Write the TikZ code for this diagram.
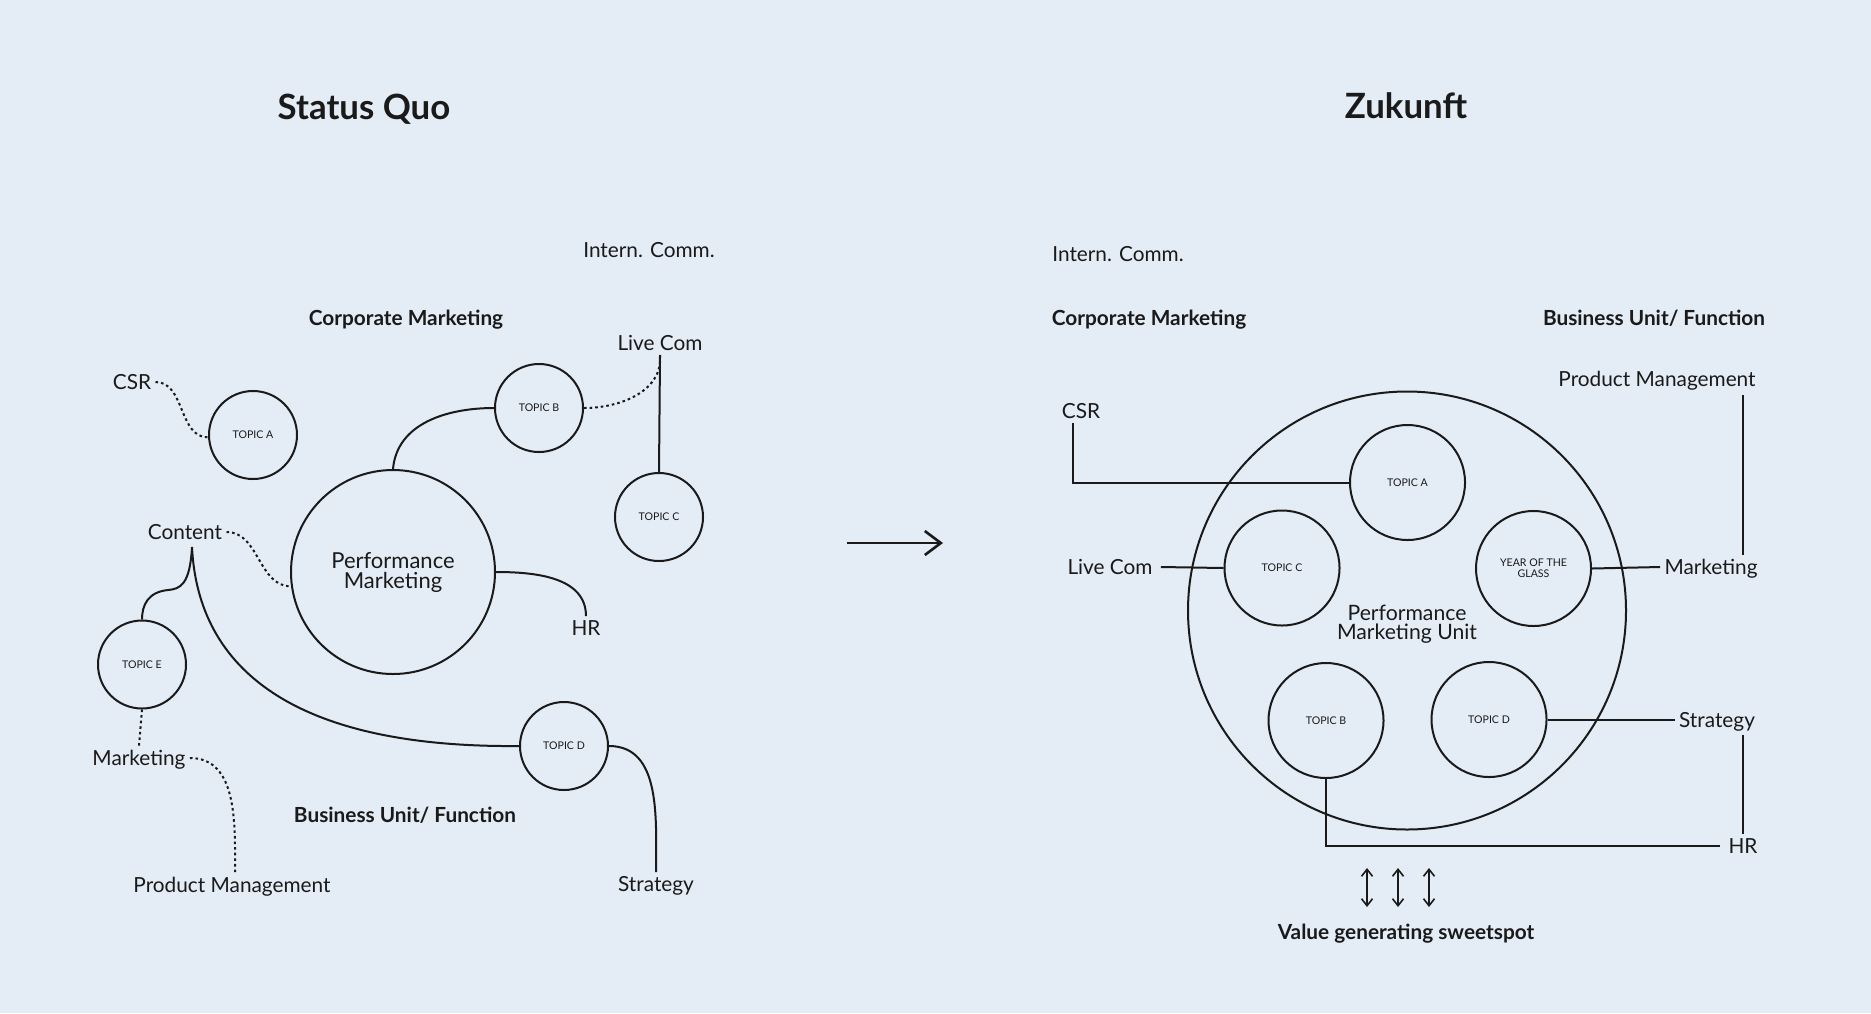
\documentclass[tikz,border=0pt]{standalone}
\usepackage{fontspec}
\setmainfont{Lato}
\usetikzlibrary{arrows.meta}
\definecolor{bg}{HTML}{E4ECF6}
\definecolor{ink}{HTML}{1A1A1A}
\tikzset{
  lbl/.style={font=\fontsize{10.4}{12}\selectfont, text=ink, inner sep=2pt, text depth=0pt},
  blbl/.style={font=\bfseries\fontsize{10.4}{12}\selectfont, text=ink, inner sep=2pt, text depth=0pt},
  ttl/.style={font=\bfseries\fontsize{17.4}{20}\selectfont, text=ink, text depth=0pt},
  topicS/.style={circle, draw=ink, line width=1pt, minimum size=44pt, inner sep=0pt, font=\fontsize{5.3}{5.4}\selectfont, text=ink, align=center},
  topicL/.style={topicS, minimum size=57.5pt},
  conn/.style={draw=ink, line width=1pt},
  dots/.style={conn, dash pattern=on 1.3pt off 1.5pt},
  barb/.tip={Straight Barb[length=3.5pt,width=5.5pt]}
}
\begin{document}
\begin{tikzpicture}[x=0.5pt,y=-0.5pt]
\fill[bg] (0,0) rectangle (1871,1013);
\useasboundingbox (0,0) rectangle (1871,1013);

% ---------------- Left: Status Quo ----------------
\node[ttl] (t1) at (364,107) {Status Quo};
\node[lbl] (icL) at (649,250) {Intern. Comm.};
\node[blbl] (cmL) at (406,318) {Corporate Marketing};
\node[lbl] (lcL) at (660,343) {Live Com};
\node[lbl] (csrL) at (132,382) {CSR};
\node[topicS] (taL) at (253,435) {TOPIC A};
\node[topicS] (tbL) at (539,408) {TOPIC B};
\node[topicS] (tcL) at (659,517) {TOPIC C};
\node[circle, draw=ink, line width=1pt, minimum size=102pt, inner sep=0pt, align=center,
      font=\fontsize{11}{10}\selectfont, text=ink] (pmL) at (393,572) {Performance\\Marketing};
\node[lbl] (contL) at (185,532) {Content};
\coordinate (cj) at (192,547);
\node[topicS] (teL) at (142,664.5) {TOPIC E};
\node[lbl] (mkL) at (139,758) {Marketing};
\node[lbl] (pmgL) at (232,885) {Product Management};
\node[blbl] (buL) at (405,815) {Business Unit/ Function};
\node[topicS] (tdL) at (564,746) {TOPIC D};
\node[lbl] (hrL) at (586,628) {HR};
\node[lbl] (strL) at (656,884) {Strategy};

\draw[dots] (csrL.east) to[out=0,in=180] (taL.183);
\draw[dots] (tbL.east) to[out=0,in=-85] (lcL.south);
\draw[conn] (lcL.south) -- (tcL.north);
\draw[conn] (pmL.north) to[out=85,in=180] (tbL.west);
\draw[conn] (pmL.east) to[out=0,in=90] (hrL.north);
\draw[dots] (contL.east) to[out=0,in=180] (pmL.188);
\draw[conn] (cj) .. controls (190,585) and (180,589) .. (168,590)
            .. controls (148,592) and (142,605) .. (teL.north);
\draw[conn] (cj) .. controls (198,670) and (295,748) .. (tdL.west);
\draw[dots] (teL.south) -- (mkL.north);
\draw[dots] (mkL.east) to[out=0,in=90] ([xshift=1.5pt]pmgL.north);
\draw[conn] (tdL.east) to[out=0,in=90] (strL.north);

% ---------------- Middle arrow ----------------
\coordinate (arS) at (847,543);
\coordinate (arE) at (943,543);
\draw[conn, line width=1.3pt, -{Straight Barb[length=8pt,width=12pt]}] (arS) -- (arE);

% ---------------- Right: Zukunft ----------------
\node[ttl] (t2) at (1406,106) {Zukunft};
\node[lbl] (icR) at (1118,254) {Intern. Comm.};
\node[blbl] (cmR) at (1149,318) {Corporate Marketing};
\node[blbl] (buR) at (1654,318) {Business Unit/ Function};
\node[lbl] (pmgR) at (1657,379) {Product Management};
\node[lbl] (csrR) at (1081,411) {CSR};
\node[circle, draw=ink, line width=1pt, minimum size=219pt, inner sep=0pt] (bigR) at (1407,610.5) {};
\node[lbl, align=center, font=\fontsize{10.6}{9.7}\selectfont] (pmuR) at (1407,622) {Performance\\Marketing Unit};
\node[topicL] (taR) at (1407.5,482.5) {TOPIC A};
\node[topicL] (tcR) at (1282,568) {TOPIC C};
\node[lbl] (lcR) at (1110,567) {Live Com};
\node[topicL] (yrR) at (1533.5,568.5) {YEAR OF THE\\GLASS};
\node[lbl] (mkR) at (1711,567) {Marketing};
\node[topicL] (tbR) at (1326,720.5) {TOPIC B};
\node[topicL] (tdR) at (1489,719.5) {TOPIC D};
\node[lbl] (strR) at (1717,719.5) {Strategy};
\node[lbl] (hrR) at (1743,846) {HR};
\node[blbl] (valR) at (1406,932) {Value generating sweetspot};

\draw[conn] (taR.west) -| ([xshift=-4pt]csrR.south);
\draw[conn] ([xshift=2pt]lcR.east) -- (tcR.west);
\draw[conn] (yrR.east) -- (mkR.west);
\draw[conn] ([yshift=-2pt]pmgR.south -| hrR.north) -- (mkR.north -| hrR.north);
\draw[conn] (tdR.east) -- (strR.west);
\draw[conn] ([yshift=-2pt]strR.south -| hrR.north) -- (hrR.north);
\draw[conn] (tbR.south) |- ([xshift=-2pt]hrR.west);

\coordinate (d1t) at (1367,868); \coordinate (d1b) at (1367,907);
\coordinate (d2t) at (1398,868); \coordinate (d2b) at (1398,907);
\coordinate (d3t) at (1429,868); \coordinate (d3b) at (1429,907);
\draw[conn, line width=0.8pt, {barb}-{barb}] (d1t) -- (d1b);
\draw[conn, line width=0.8pt, {barb}-{barb}] (d2t) -- (d2b);
\draw[conn, line width=0.8pt, {barb}-{barb}] (d3t) -- (d3b);
\end{tikzpicture}
\end{document}
